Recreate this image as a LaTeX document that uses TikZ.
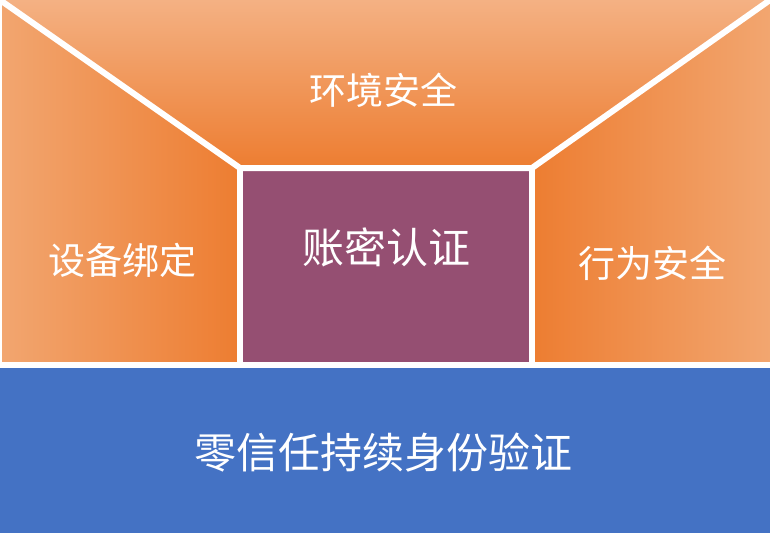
\documentclass[tikz,border=0pt]{standalone}
\usepackage{fontspec}
\newfontfamily\cjk{Noto Sans CJK SC}
\usetikzlibrary{positioning}
\definecolor{paleorange}{RGB}{244,177,131}
\definecolor{lightorange}{RGB}{242,166,112}
\definecolor{darkorange}{RGB}{237,125,49}
\definecolor{plum}{RGB}{149,79,114}
\definecolor{zeroblue}{RGB}{68,114,196}

\begin{document}
\begin{tikzpicture}[x=1pt,y=-1pt]
       \tikzstyle{panel text}=[text=white,font=\cjk\fontsize{37}{40}\selectfont]
       \tikzstyle{big text}=[text=white,font=\cjk\fontsize{42}{46}\selectfont]
       \tikzstyle{gap}=[white,line width=6pt]

       \useasboundingbox (0,0) rectangle (770,533);
       \coordinate (tl) at (0,0);
       \coordinate (tr) at (770,0);
       \coordinate (il) at (240,168);
       \coordinate (ir) at (532,168);
       \coordinate (bl) at (0,365);
       \coordinate (br) at (770,365);
       \coordinate (ml) at (240,365);
       \coordinate (mr) at (532,365);
       \coordinate (bb) at (770,533);

       % panels
       \shade[top color=paleorange,bottom color=darkorange] (tl) -- (tr) -- (ir) -- (il) -- cycle;
       \shade[left color=lightorange,right color=darkorange] (tl) -- (il) -- (ml) -- (bl) -- cycle;
       \shade[left color=darkorange,right color=lightorange] (ir) -- (tr) -- (br) -- (mr) -- cycle;
       \fill[plum] (il) rectangle (mr);
       \fill[zeroblue] (bl) rectangle (bb);

       % white gaps
       \draw[gap] (tl) -- (il) -- (ir) -- (tr);
       \draw[gap] (il) -- (ml);
       \draw[gap] (ir) -- (mr);
       \draw[gap] (bl) -- (br);
       \draw[white,line width=4pt] (tl) -- (bl);

       \node[panel text] (env) at (383,90) {环境安全};
       \node[panel text] (device) at (122,260) {设备绑定};
       \node[big text] (account) at (386,247) {账密认证};
       \node[panel text] (behavior) at (652,263) {行为安全};
       \node[big text] (zerotrust) at (383,453) {零信任持续身份验证};
     \end{tikzpicture}
\end{document}
